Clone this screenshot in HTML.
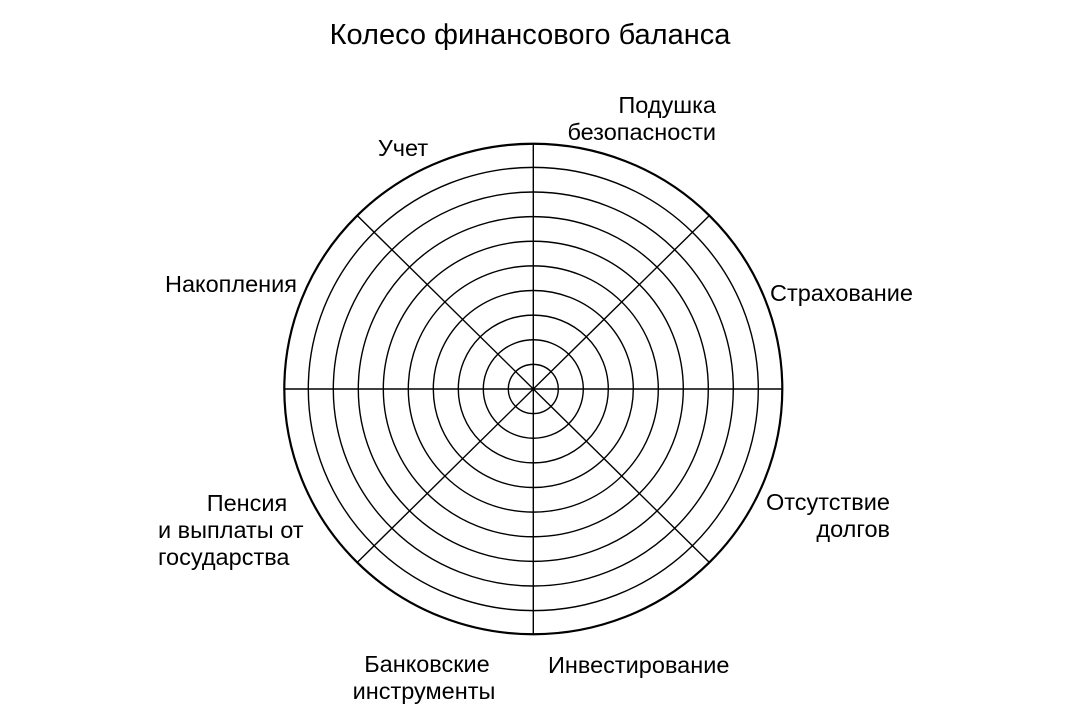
<!DOCTYPE html>
<html><head><meta charset="utf-8"><style>
html,body{margin:0;padding:0;background:#fff;}
svg{display:block;}
text{font-family:"Liberation Sans","DejaVu Sans",sans-serif;fill:#000;}
</style></head><body>
<svg width="1090" height="717" viewBox="0 0 1090 717" xmlns="http://www.w3.org/2000/svg">
<text x="530" y="44" font-size="29" text-anchor="middle">Колесо финансового баланса</text>
<g transform="translate(533.3,389) scale(1,0.985)" fill="none" stroke="#000">
  <g stroke-width="1.4">
    <circle r="25"/><circle r="50"/><circle r="75"/><circle r="100"/><circle r="125"/>
    <circle r="150"/><circle r="175"/><circle r="200"/><circle r="225"/>
    <line x1="-249" y1="0" x2="249" y2="0"/>
    <line x1="0" y1="-249" x2="0" y2="249"/>
    <line x1="-176" y1="-176" x2="176" y2="176"/>
    <line x1="-176" y1="176" x2="176" y2="-176"/>
  </g>
  <circle r="249" stroke-width="2.2"/>
</g>
<g font-size="23.5">
<text x="716" y="113" text-anchor="end">Подушка</text>
<text x="716" y="140" text-anchor="end">безопасности</text>
<text x="403" y="156" text-anchor="middle">Учет</text>
<text x="165" y="292">Накопления</text>
<text x="770" y="301">Страхование</text>
<text x="247" y="511" text-anchor="middle">Пенсия</text>
<text x="158" y="538">и выплаты от</text>
<text x="158" y="565">государства</text>
<text x="890" y="510" text-anchor="end">Отсутствие</text>
<text x="890" y="537" text-anchor="end">долгов</text>
<text x="427" y="672" text-anchor="middle">Банковские</text>
<text x="424" y="699" text-anchor="middle">инструменты</text>
<text x="548" y="673">Инвестирование</text>
</g>
</svg>
</body></html>
